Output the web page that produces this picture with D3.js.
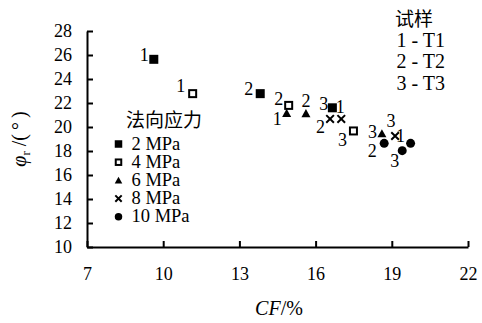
<!DOCTYPE html>
<html>
<head>
<meta charset="utf-8">
<script src="https://cdn.jsdelivr.net/npm/d3@7"></script>
<style>
  html, body { margin: 0; padding: 0; background: #fff; }
  svg { display: block; }
</style>
</head>
<body>
<svg id="chart" width="482" height="323"></svg>
<script>
// Normal stress groups and specimens
const stressLabels = ["2 MPa", "4 MPa", "6 MPa", "8 MPa", "10 MPa"];
const sampleIds = ["1", "2", "3"];
const sampleNames = ["T1", "T2", "T3"];

// CF (%) for specimens T1, T2, T3 under each normal stress
const cf2 = [9.63, 13.82, 16.66];
const cf4 = [11.16, 14.94, 17.49];
const cf6 = [14.86, 15.62, 18.61];
const cf8 = [17.01, 16.57, 19.13];
const cf10 = [19.74, 18.70, 19.41];

// residual friction angle φr (°) for specimens T1, T2, T3
const phi2 = [25.64, 22.78, 21.60];
const phi4 = [22.78, 21.80, 19.67];
const phi6 = [21.14, 21.12, 19.44];
const phi8 = [20.67, 20.67, 19.25];
const phi10 = [18.64, 18.64, 18.03];

const xTicks = [7, 10, 13, 16, 19, 22];
const yTicks = [10, 12, 14, 16, 18, 20, 22, 24, 26, 28];

const cfSets = [cf2, cf4, cf6, cf8, cf10];
const phiSets = [phi2, phi4, phi6, phi8, phi10];
const shapes = ["square", "open", "triangle", "cross", "circle"];

const SERIF = "'Liberation Serif', serif";
const CJK = "'Noto Sans CJK SC', sans-serif";

// where each specimen number sits beside its marker: [dx, dy, anchor]
const labelPlacement = [
  [[-5, 1.5, "end"], [-7, 1, "end"], [-4, 2, "end"]],
  [[-7.5, -2, "end"], [-5.5, 0, "end"], [-6.5, 15.5, "end"]],
  [[-5, 11.5, "end"], [0, -7, "middle"], [-5, 4.5, "end"]],
  [[-1, -5.5, "middle"], [-5, 14, "end"], [-4, -9.5, "middle"]],
  [[-5.7, -1.7, "end"], [-7.5, 13.5, "end"], [-3, 16, "end"]]
];

const svg = d3.select("#chart");
const x = d3.scaleLinear().domain([7, 22]).range([87, 468]);
const y = d3.scaleLinear().domain([10, 28]).range([247, 31]);

// axes with inward ticks
const xAxis = svg.append("g").attr("transform", `translate(0,${y(10)})`)
  .call(d3.axisBottom(x).tickValues(xTicks).tickSizeInner(-6).tickSizeOuter(0).tickPadding(20));
const yAxis = svg.append("g").attr("transform", `translate(${x(7)},0)`)
  .call(d3.axisLeft(y).tickValues(yTicks).tickSizeInner(-6).tickSizeOuter(0).tickPadding(15));
[xAxis, yAxis].forEach(g => {
  g.style("font-family", SERIF).style("font-size", "18px");
  g.select(".domain").attr("stroke", "#000").attr("stroke-width", 2);
  g.selectAll(".tick line").attr("stroke", "#000").attr("stroke-width", 2);
  g.selectAll(".tick text").style("font-family", SERIF).style("font-size", "18px").attr("fill", "#000");
});

// marker drawing centred on (cx, cy)
function drawMarker(g, shape, cx, cy, s) {
  const h = s / 2;
  if (shape === "square") {
    g.append("rect").attr("x", cx - h).attr("y", cy - h).attr("width", s).attr("height", s).attr("fill", "#000");
  } else if (shape === "open") {
    g.append("rect").attr("x", cx - h + 1).attr("y", cy - h + 1).attr("width", s - 2).attr("height", s - 2)
      .attr("fill", "#fff").attr("stroke", "#000").attr("stroke-width", 2);
  } else if (shape === "triangle") {
    g.append("path").attr("d", `M${cx},${cy - h}L${cx + h},${cy + h * 0.8}L${cx - h},${cy + h * 0.8}Z`).attr("fill", "#000");
  } else if (shape === "cross") {
    const c = h * 0.85;
    g.append("path").attr("d", `M${cx - c},${cy - c}L${cx + c},${cy + c}M${cx - c},${cy + c}L${cx + c},${cy - c}`)
      .attr("stroke", "#000").attr("stroke-width", 2).attr("fill", "none");
  } else {
    g.append("circle").attr("cx", cx).attr("cy", cy).attr("r", h).attr("fill", "#000");
  }
}

function serifText(g, px) {
  return g.append("text").style("font-family", SERIF).style("font-size", px + "px").attr("fill", "#000");
}

// data points with specimen numbers
const pts = svg.append("g");
cfSets.forEach((cfs, i) => {
  cfs.forEach((v, j) => {
    const cx = x(v), cy = y(phiSets[i][j]);
    drawMarker(pts, shapes[i], cx, cy, 9);
    const p = labelPlacement[i][j];
    serifText(pts, 18).attr("x", cx + p[0]).attr("y", cy + p[1]).attr("text-anchor", p[2]).text(sampleIds[j]);
  });
});

// normal stress legend
svg.append("text").style("font-family", CJK).style("font-size", "19px")
  .attr("x", 126).attr("y", 127).text("法向应力");
stressLabels.forEach((t, i) => {
  const cy = 144 + i * 18.2;
  drawMarker(svg, shapes[i], 118.5, cy, 7.5);
  serifText(svg, 18.5).attr("x", 131.5).attr("y", cy + 5.5).text(t);
});

// specimen legend
svg.append("text").style("font-family", CJK).style("font-size", "19px")
  .attr("x", 395).attr("y", 26).text("试样");
sampleNames.forEach((t, i) => {
  serifText(svg, 20).attr("x", 396.5).attr("y", 46.7 + i * 21.7)
    .text(`${sampleIds[i]} - ${t}`);
});

// axis titles
const xt = serifText(svg, 20).attr("x", 279).attr("y", 315).attr("text-anchor", "middle");
xt.append("tspan").style("font-style", "italic").text("CF");
xt.append("tspan").text("/%");

const yt = serifText(svg, 20).attr("transform", "translate(26,139) rotate(-90)").attr("text-anchor", "middle");
yt.append("tspan").style("font-style", "italic").text("φ");
yt.append("tspan").attr("dy", 4).style("font-size", "13px").text("r");
yt.append("tspan").attr("dy", -4).text(" /(\u2009°\u2009)");
</script>
</body>
</html>
